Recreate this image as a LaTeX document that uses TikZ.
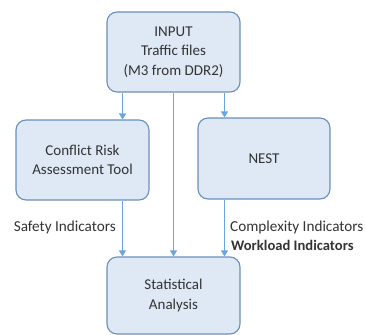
\documentclass[tikz,border=0pt]{standalone}
\usepackage{fontspec}
\setmainfont{Carlito}
\usetikzlibrary{arrows.meta}
\tikzset{
  box/.style={draw=boxline, fill=boxfill, line width=1.1pt, rounded corners=10pt,
    minimum width=133pt, minimum height=80pt, align=center, inner sep=2pt,
    font=\fontsize{15}{19.5}\selectfont, text=black!80},
  flow/.style={draw=arrowblue, line width=1.2pt, -{Triangle[length=6pt,width=7pt]}},
  lbl/.style={font=\fontsize{15.2}{16}\selectfont, text=black!80, inner sep=0pt}
}
\definecolor{boxfill}{HTML}{DEE9F5}
\definecolor{boxline}{HTML}{6A8FBA}
\definecolor{arrowblue}{HTML}{6AA5E0}
\begin{document}
\begin{tikzpicture}[x=1pt, y=-1pt]
    \useasboundingbox (0, 0) rectangle (366, 334);

    % 框
    \node[box] (input) at (173.5, 52) {INPUT\\Traffic files\\(M3 from DDR2)};
    \node[box] (crat) at (82.5, 160) {Conflict Risk\\Assessment Tool};
    \node[box, minimum width=132pt, minimum height=81pt] (nest) at (264, 158.5) {NEST};
    \node[box, minimum height=77pt] (stat) at (173.5, 295.5) {Statistical\\Analysis};

    % 箭头
    \draw[flow] ([xshift=-51pt]input.south) -- ([xshift=-51pt]input.south |- crat.north);
    \draw[flow] ([xshift=51pt]input.south) -- ([xshift=51pt]input.south |- nest.north);
    \draw[flow] (input.south) -- (stat.north);
    \draw[flow] ([xshift=-51pt]stat.north |- crat.south) -- ([xshift=-51pt]stat.north);
    \draw[flow] ([xshift=51pt]stat.north |- nest.south) -- ([xshift=51pt]stat.north);

    % 标注
    \node[lbl, anchor=east] (safety) at (116, 227) {Safety Indicators};
    \node[lbl, anchor=west] (cplx) at (230, 227) {Complexity Indicators};
    \node[lbl, anchor=west, font=\fontsize{14.6}{16}\selectfont\bfseries] (wkld) at (231, 245) {Workload Indicators};
\end{tikzpicture}
\end{document}
